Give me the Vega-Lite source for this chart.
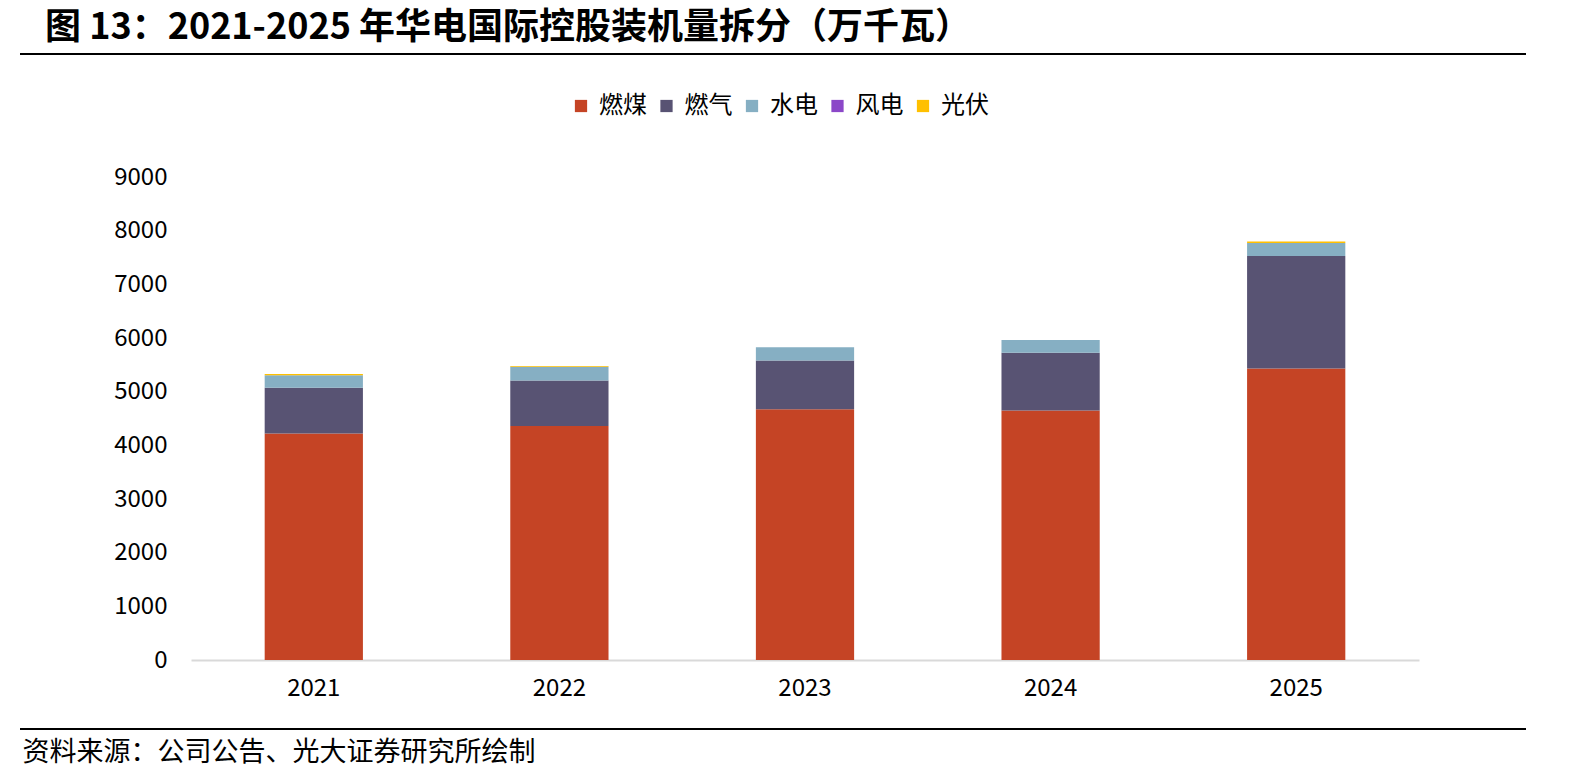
{
  "$schema": "https://vega.github.io/schema/vega-lite/v6.json",
  "autosize": {"type": "none"},
  "padding": {"left": 191, "top": 177, "right": 174, "bottom": 118},
  "width": 1228,
  "height": 483,
  "background": "white",
  "title": {
    "text": "图 13：2021-2025 年华电国际控股装机量拆分（万千瓦）",
    "anchor": "start",
    "frame": "group",
    "dx": -146,
    "offset": 6,
    "fontSize": 36,
    "fontWeight": "bold",
    "color": "#000000",
    "font": "Noto Sans CJK SC"
  },
  "config": {
    "font": "Noto Sans CJK SC",
    "view": {"stroke": null}
  },
  "layer": [
    {
      "data": {
        "values": [
          {"year": "2021", "type": "燃煤", "k": 1, "value": 4222},
          {"year": "2021", "type": "燃气", "k": 2, "value": 849},
          {"year": "2021", "type": "水电", "k": 3, "value": 236},
          {"year": "2021", "type": "风电", "k": 4, "value": 0},
          {"year": "2021", "type": "光伏", "k": 5, "value": 20},
          {"year": "2022", "type": "燃煤", "k": 1, "value": 4358},
          {"year": "2022", "type": "燃气", "k": 2, "value": 851},
          {"year": "2022", "type": "水电", "k": 3, "value": 253},
          {"year": "2022", "type": "风电", "k": 4, "value": 0},
          {"year": "2022", "type": "光伏", "k": 5, "value": 18},
          {"year": "2023", "type": "燃煤", "k": 1, "value": 4674},
          {"year": "2023", "type": "燃气", "k": 2, "value": 907},
          {"year": "2023", "type": "水电", "k": 3, "value": 248},
          {"year": "2023", "type": "风电", "k": 4, "value": 0},
          {"year": "2023", "type": "光伏", "k": 5, "value": 0},
          {"year": "2024", "type": "燃煤", "k": 1, "value": 4650},
          {"year": "2024", "type": "燃气", "k": 2, "value": 1073},
          {"year": "2024", "type": "水电", "k": 3, "value": 242},
          {"year": "2024", "type": "风电", "k": 4, "value": 0},
          {"year": "2024", "type": "光伏", "k": 5, "value": 0},
          {"year": "2025", "type": "燃煤", "k": 1, "value": 5432},
          {"year": "2025", "type": "燃气", "k": 2, "value": 2097},
          {"year": "2025", "type": "水电", "k": 3, "value": 242},
          {"year": "2025", "type": "风电", "k": 4, "value": 0},
          {"year": "2025", "type": "光伏", "k": 5, "value": 26}
        ]
      },
      "mark": {"type": "bar"},
      "encoding": {
        "x": {
          "field": "year",
          "type": "ordinal",
          "scale": {"paddingInner": 0.6, "paddingOuter": 0.3},
          "axis": {
            "title": "资料来源：公司公告、光大证券研究所绘制",
            "titleX": -169,
            "titleY": 92,
            "titleAlign": "left",
            "titleAnchor": "start",
            "titleBaseline": "middle",
            "titleFontSize": 27,
            "titleFontWeight": "normal",
            "titleColor": "#000000",
            "labelAngle": 0,
            "labelFontSize": 24,
            "labelColor": "#000000",
            "labelPadding": 16,
            "ticks": false,
            "domainColor": "#D9D9D9",
            "domainWidth": 2
          }
        },
        "y": {
          "field": "value",
          "type": "quantitative",
          "stack": "zero",
          "scale": {"domain": [0, 9000]},
          "axis": {
            "title": null,
            "values": [0, 1000, 2000, 3000, 4000, 5000, 6000, 7000, 8000, 9000],
            "format": "d",
            "grid": false,
            "domain": false,
            "ticks": false,
            "labelPadding": 24,
            "labelFontSize": 24,
            "labelColor": "#000000"
          }
        },
        "color": {
          "field": "type",
          "type": "nominal",
          "scale": {
            "domain": ["燃煤", "燃气", "水电", "风电", "光伏"],
            "range": ["#C54425", "#585373", "#86AFC3", "#8B47C8", "#FFC000"]
          },
          "legend": {
            "title": null,
            "orient": "none",
            "legendX": 378,
            "legendY": -83,
            "direction": "horizontal",
            "symbolType": "square",
            "symbolSize": 150,
            "symbolStrokeWidth": 0,
            "labelFontSize": 24,
            "labelColor": "#000000",
            "labelOffset": 6,
            "columnPadding": 7.5
          }
        },
        "order": {"field": "k", "type": "quantitative"}
      }
    },
    {
      "data": {"values": [{"pos": 0}, {"pos": 1}]},
      "mark": {"type": "rule", "color": "#000000", "strokeWidth": 2},
      "encoding": {
        "x": {"value": -171},
        "x2": {"value": 1335},
        "y": {
          "field": "pos",
          "type": "quantitative",
          "scale": {"domain": [0, 1], "range": [-123, 552], "zero": false, "nice": false},
          "axis": null
        }
      }
    }
  ],
  "resolve": {"scale": {"y": "independent"}}
}
